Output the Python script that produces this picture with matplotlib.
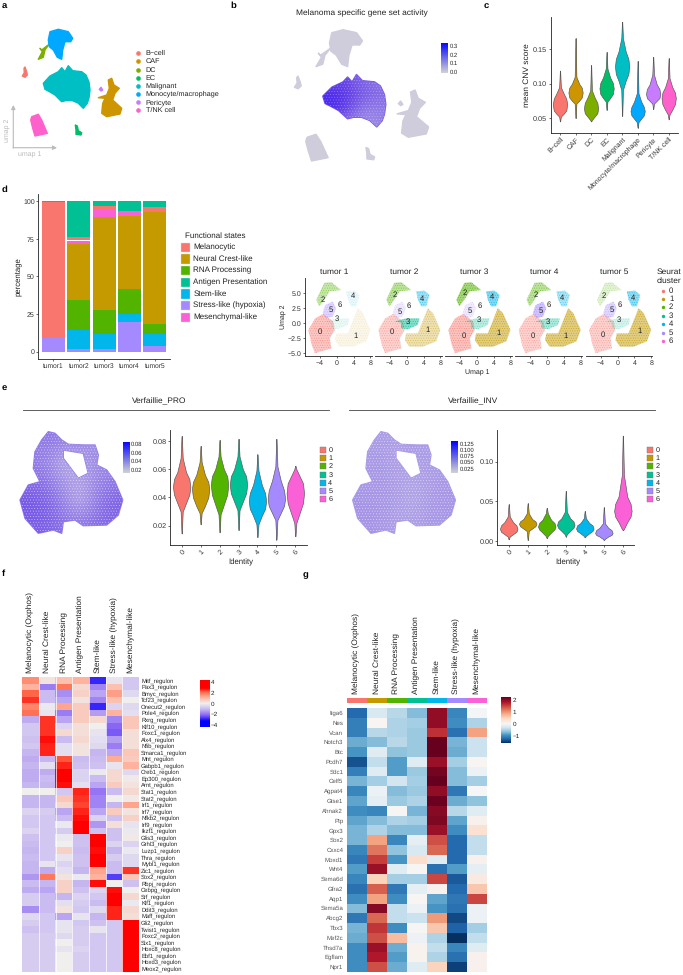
import numpy as np
import matplotlib
matplotlib.use('Agg')
from matplotlib import pyplot as plt
from matplotlib.colors import LinearSegmentedColormap, TwoSlopeNorm, Normalize
from matplotlib.path import Path
from matplotlib.patches import PathPatch, Rectangle

plt.rcParams['font.family'] = ['Liberation Sans', 'DejaVu Sans']
plt.rcParams['hatch.linewidth'] = 0.3
plt.rcParams['text.hinting'] = 'no_hinting'

W, H = 683, 975

# ggplot hue palettes used by the figure
hue8 = ['#F8766D', '#CD9600', '#7CAE00', '#00BE67', '#00BFC4', '#00A9FF', '#C77CFF', '#FF61CC']
hue7 = ['#F8766D', '#C49A00', '#53B400', '#00C094', '#00B6EB', '#A58AFF', '#FB61D7']

# Panel a/b: cell type umap outlines
cell_types = ['B\u2212cell', 'CAF', 'DC', 'EC', 'Malignant', 'Monocyte/macrophage', 'Pericyte', 'T/NK cell']
bcell_xy = [(25, 67), (26.7, 72), (27.3, 75), (25, 77.3), (22.3, 76), (24.3, 72.7), (24, 68.3)]
caf_xy = [(108.3, 80), (111.7, 78.3), (114, 85), (119.3, 88.3), (115, 93.3), (112.7, 100), (121.7, 108.3),
          (120, 114), (106.7, 116.7), (101.7, 113.3), (102.7, 103.3), (105, 98.3), (98.3, 97.7), (106.7, 95), (109.3, 88.3)]
dc_xy = [(49, 44.3), (41.7, 50), (40, 48.3), (42.3, 51.7), (38.3, 59.3), (43.3, 57.3), (45, 50)]
ec_xy = [(75.3, 125), (77.3, 126), (78.3, 130.7), (81.7, 132.7), (81, 135), (76, 134.3), (76, 130)]
malignant_xy = [(43.3, 83.3), (50, 76), (58.3, 71.7), (61.7, 67.7), (65, 71.7), (68.3, 65.7), (72.7, 70.7), (81.7, 71.7),
                (86, 75), (89, 82), (90, 90), (89, 98), (87.3, 103.3), (83.3, 108.3), (78, 103), (72, 100.5), (66, 100.5),
                (61.7, 101.7), (55, 95), (50, 92), (45, 89.3)]
mono_xy = [(50, 31.7), (58.3, 29.3), (68.3, 31.7), (72.7, 38.3), (70.7, 41.7), (65, 41.7), (62.7, 50), (61.7, 59.3),
           (57.3, 57.3), (53.3, 50), (49.3, 46.7), (48.3, 40)]
pericyte_xy = [(99.3, 89.3), (101, 87.3), (102.7, 90), (101, 91)]
tnk_xy = [(31.7, 116.7), (38.3, 114.3), (41.7, 120), (47.3, 133.3), (35, 136), (32.7, 128.3), (30.7, 120)]
cell_shapes = [bcell_xy, caf_xy, dc_xy, ec_xy, malignant_xy, mono_xy, pericyte_xy, tnk_xy]

# Panel b: gene set activity over the malignant cluster, left to right
malignant_activity = [[0.20, 0.21, 0.17, 0.15, 0.13],
                      [0.26, 0.24, 0.19, 0.17, 0.15],
                      [0.27, 0.23, 0.17, 0.13, 0.13],
                      [0.20, 0.16, 0.12, 0.10, 0.12]]

# Panel c: CNV score violins, value at each of the shared width levels
violin_levels = [0.02, 0.12, 0.50, 0.88, 1.0, 0.88, 0.50, 0.12, 0.02]
cnv_values = [[.045, .052, .056, .061, .070, .078, .086, .095, .119],
              [.050, .071, .075, .080, .087, .094, .100, .110, .166],
              [.045, .047, .052, .057, .064, .072, .080, .090, .127],
              [.062, .074, .079, .085, .093, .101, .109, .122, .146],
              [.053, .091, .104, .114, .125, .136, .147, .166, .190],
              [.036, .044, .049, .054, .060, .066, .074, .086, .133],
              [.063, .071, .075, .079, .085, .092, .099, .113, .139],
              [.048, .055, .062, .070, .079, .087, .095, .108, .137]]

# Panel d: stacked percentages per tumor
tumors = ['tumor1', 'tumor2', 'tumor3', 'tumor4', 'tumor5']
state_names = ['Melanocytic', 'Neural Crest-like', 'RNA Processing', 'Antigen Presentation',
               'Stem-like', 'Stress-like (hypoxia)', 'Mesenchymal-like']
pct_stress = [9, 2, 2, 19.5, 4]
pct_stem = [0, 12.5, 10, 5.5, 8]
pct_rna = [0, 20, 16, 17, 6.5]
pct_neural = [0, 37, 61.5, 48.5, 74.5]
pct_mes = [1, 2.5, 5.5, 2.5, 0.5]
pct_mel = [89.5, 2.5, 2, 0.5, 2.5]
pct_antigen = [0.5, 23.5, 3, 6.5, 4]

# Panel d right: seurat cluster outlines in umap units
cluster0_xy = [(-6.8, -1.1), (-5.2, .8), (-3.25, 1.55), (-.9, .3), (-.5, -1.1), (-1.7, -2.5), (-1.3, -4.2), (-4, -4.7), (-5.2, -5), (-6, -3.6)]
cluster1_xy = [(-.2, -1.7), (2.6, -1.7), (5, 2.5), (6.2, 1.7), (8, -1.1), (7, -3), (3.8, -3.9), (.6, -3.9), (-.5, -2.8)]
cluster2_xy = [(-4.9, 3.9), (-3, 6.7), (-1.3, 6.8), (1, 5.5), (-1.7, 5.3), (-3, 3.9), (-4.2, 2.8)]
cluster3_xy = [(-2.9, .3), (-.2, .8), (3, .8), (2.6, -.3), (.2, -1), (-1.4, -.8), (-1.4, .1)]
cluster4_xy = [(2.2, 5.3), (4.2, 5.4), (5.4, 4.7), (4.6, 2.8), (3.4, 2.8), (2.6, 3.9)]
cluster5_xy = [(-2.8, 3), (-1, 3.6), (-.2, 2.5), (-1, 1.1), (-2.6, .8), (-3.4, 1.7)]
cluster6_xy = [(.4, 3.0), (.7, 3.2), (.9, 2.9), (.6, 2.7)]
cluster_shapes = [cluster0_xy, cluster1_xy, cluster2_xy, cluster3_xy, cluster4_xy, cluster5_xy, cluster6_xy]
# how filled each cluster looks in each tumor
cluster_density = [[.75, .60, .80, .60, .60],
                   [.15, .55, .90, .90, .90],
                   [.60, .70, .95, .70, .30],
                   [.15, .90, .50, .60, .30],
                   [.15, .70, .90, .60, .80],
                   [.60, .30, .30, .90, .60],
                   [.50, .50, .50, .50, .50]]
cluster_label_xy = [[(-4, -1.4), (4.4, -2.1), (-3.4, 3.8), (0, .7), (3.9, 4.5), (-1.4, 2.2), (.6, 3.0)],
                    [(-3.5, -1.4), (5, -1.1), (-2.9, 4.7), (.2, .3), (3.5, 4), (-1.8, 1.9), (.4, 2.8)],
                    [(-3.1, -2.1), (5.2, -1.6), (-2.8, 5.1), (.4, .5), (3.7, 4.3), (-1.8, 2), (.6, 2.9)],
                    [(-3.5, -2.1), (4.3, -2.1), (-2.8, 4.7), (.2, .3), (3.5, 4.2), (-1.5, 2.1), (.4, 3.1)],
                    [(-3.4, -2), (5.3, -1.2), (-3.3, 4.6), (.2, .5), (3.7, 4.2), (-1.3, 2.2), (.6, 3.1)]]

# Panel e: combined umap outline, hole and score violins
melanoma_xy = [(48.3, 56.7), (55, 58.3), (61.7, 65), (68.3, 69.3), (83.3, 70), (95, 70), (98.3, 80), (96.7, 90),
               (106.7, 95), (115, 106.7), (122.7, 125), (118.3, 140), (106.7, 150), (83.3, 150.7), (75, 145),
               (63.3, 146.7), (61.7, 158.3), (53.3, 155), (38.3, 158.3), (25, 143.3), (20, 125), (28.3, 110),
               (40, 106.7), (33.3, 93.3), (35, 76.7), (41.7, 65)]
melanoma_hole_xy = [(63.3, 75), (83.3, 78.3), (88.3, 98.3), (78.3, 103.3), (68.3, 90), (63.3, 83.3)]
pro_activity = [[.034, .040, .036, .034, .032, .030],
                [.038, .034, .022, .026, .032, .034],
                [.042, .040, .030, .024, .034, .038],
                [.050, .046, .036, .022, .038, .046],
                [.046, .046, .040, .038, .042, .044]]
inv_activity = [[.024, .024, .022, .024, .024, .024],
                [.024, .026, .022, .022, .024, .024],
                [.027, .026, .024, .018, .024, .027],
                [.027, .027, .022, .022, .026, .026]]
cluster_ids = ['0', '1', '2', '3', '4', '5', '6']
pro_values = [[.0145, .030, .036, .042, .0475, .053, .058, .068, .0835],
              [.021, .029, .034, .040, .046, .051, .056, .065, .0765],
              [.0153, .028, .035, .042, .049, .055, .060, .069, .0807],
              [.017, .031, .037, .043, .049, .055, .060, .069, .0815],
              [.012, .021, .027, .032, .0375, .043, .049, .059, .0705],
              [.0102, .024, .029, .034, .039, .045, .052, .062, .0815],
              [.0125, .022, .029, .036, .043, .050, .055, .060, .0625]]
inv_values = [[.0025, .006, .009, .012, .0155, .020, .024, .031, .0465],
              [.0017, .013, .016, .019, .022, .025, .028, .035, .0477],
              [.004, .0067, .011, .015, .0185, .023, .027, .035, .042],
              [.006, .0088, .013, .017, .0205, .025, .029, .037, .0632],
              [.005, .0067, .010, .013, .016, .020, .023, .029, .038],
              [.0017, .003, .006, .008, .0105, .014, .017, .0226, .0427],
              [.014, .0155, .024, .031, .038, .047, .056, .083, .1326]]

# Panel f: regulon heatmap
heat_cols = ['Melanocytic (Oxphos)', 'Neural Crest-like', 'RNA Processing', 'Antigen Presentation',
             'Stem-like', 'Stress-like (hypoxia)', 'Mesenchymal-like']
regulons = ['Mitf', 'Pax3', 'Bmyc', 'Tcf23', 'Onecut2', 'Pole4', 'Rxrg', 'Klf10', 'Foxc1', 'Alx4', 'Nfib', 'Smarca1',
            'Mnt', 'Gabpb1', 'Creb1', 'Ep300', 'Arnt', 'Stat1', 'Stat2', 'Irf1', 'Irf7', 'Nfkb2', 'Irf9', 'Ikzf1',
            'Glis3', 'Grhl3', 'Luzp1', 'Thra', 'Mybl1', 'Zic1', 'Sox2', 'Rbpj', 'Cebpg', 'Srf', 'Klf1', 'Ddit3', 'Maff',
            'Gli2', 'Twist1', 'Foxc2', 'Six1', 'Hoxc8', 'Ebf1', 'Hoxd3', 'Meox2']
regulon_z = [[1.5, .2, .8, 1.0, -2.6, -.2, -.7],
             [1.0, -1.7, 1.8, .4, -1.6, .8, -.7],
             [2.0, -.9, -1.5, .5, -1.2, 1.3, -.4],
             [2.3, -.9, -1.2, .2, -1.6, .8, 0],
             [1.6, -.1, 1.2, .6, -2.6, -.5, -.4],
             [1.9, -.2, -1.7, .6, -1.3, 1.0, -.3],
             [-1.1, 2.3, -1.2, .6, .4, -1.6, .7],
             [-.7, 2.3, -.5, .3, 0, -2.0, .7],
             [-.7, 2.3, .4, .3, -.2, -2.1, .3],
             [-.8, 2.5, -.9, .4, -.3, -1.3, .3],
             [-.7, 2.4, -.3, .2, -.4, -1.7, .3],
             [-1.0, 2.4, -.3, .2, -1, -1.2, .7],
             [-1.1, -1.0, 2.1, -.9, -.9, 1.1, .6],
             [-1.0, -.3, 2.4, -.8, -.8, -.2, 1.0],
             [-1.1, -1.1, 2.6, -.5, -.1, .4, -.4],
             [-1.1, -.9, 2.6, -.5, -.9, .4, .1],
             [-1.0, -1.0, 2.5, -.3, -1.2, .6, .2],
             [0, 0, -.7, 2.4, -1.8, -.9, .4],
             [-1.0, -1.0, .7, 2.3, -1.6, 0, .1],
             [-1.0, -1.0, .4, 2.2, -1.6, -1.0, 1.2],
             [-.5, -.6, -1.2, 2.4, -1.2, .6, .2],
             [-.7, -.7, -.9, 2.5, -.5, -.8, .5],
             [-.7, -.7, -.1, 2.6, -1.4, .3, -.2],
             [-.5, -.7, -.6, 3, -.8, -.8, -.1],
             [-.8, -.7, -.1, -.8, 3, -.8, .1],
             [-.9, -.7, 0, -.8, 3, -.5, -.5],
             [-1., -.7, .5, -.9, 2.5, -1.0, -.1],
             [-.9, -.7, -.2, -.8, 3, -.6, -.4],
             [-1.0, -.2, -.5, -.8, 3, -.9, -.4],
             [-1.0, -1.1, -.3, -1.0, 1.2, -.9, 2.3],
             [-1.4, 1.8, .2, -.1, 1.0, -2.4, .7],
             [-.9, -1.0, .5, -1.0, 2.5, 0, -.8],
             [-1.1, -1.2, .5, -.8, -.5, 2.5, 0],
             [-.6, -.9, -1.0, -.5, -.7, 2.6, .4],
             [-.6, -.9, -.3, -.6, -.9, 2.8, -.1],
             [-1.5, -.9, .2, -.7, -.4, 2.4, .4],
             [-.4, -.7, -1.2, -.2, -1.0, 2.4, .3],
             [-.6, -.7, -.2, -.7, -.8, -.7, 3],
             [-.8, -.7, -.2, -.6, -.2, -.7, 3],
             [-.6, -.6, -.4, -.6, -.7, -.7, 3],
             [-.6, -.6, 0, -.6, -.7, -.7, 3],
             [-.6, -.6, -.2, -.5, -.7, -.7, 3],
             [-.6, -.6, 0, -.6, -.7, -.7, 3],
             [-.6, -.6, 0, -.6, -.7, -.7, 3],
             [-.6, -.6, 0, -.6, -.7, -.7, 3]]

# Panel g: gene heatmap
genes = ['Itga6', 'Nes', 'Vcan', 'Notch3', 'Btc', 'Pcdh7', 'Sdc1', 'Celf5', 'Agpat4', 'Gtse1', 'Ahnak2', 'Ptp', 'Gpx3',
         'Sox2', 'Cxxc4', 'Moxd1', 'Wnt4', 'Sema6d', 'Gfra2', 'Aqp1', 'Sema5a', 'Abcg2', 'Tbx3', 'Mef2c', 'Thsd7a', 'Egflam', 'Npr1']
gene_z = [[-1.25, -.25, -.45, -.7, 2.0, -1.05, -.02],
          [-1.1, .05, -.5, -.55, 2.0, -1.0, -.5],
          [-1.1, -.45, -.5, -.6, 1.65, -1.2, .9],
          [-.8, -.7, -.45, -.6, 2.25, -.75, -.35],
          [-.95, -.2, -.65, -.6, 2.25, -.8, -.35],
          [-1.4, -.4, -.9, -.2, 1.95, -.55, .05],
          [-1.1, -.2, -.9, -.6, 2.15, -.7, -.1],
          [-.75, -.55, -.3, -.55, 2.25, -.7, -.55],
          [-1.05, -.1, -.7, -.6, 2.0, -1.15, 0],
          [-.85, -.15, -.6, -.5, 2.2, -.8, -.65],
          [-1.0, -1.05, .03, -.75, 2.05, -.45, -.2],
          [-.85, -.7, -.5, -.55, 2.1, -.85, .1],
          [-.75, -.5, -.7, -.7, 1.95, -1.0, .35],
          [-.75, .9, -1.05, -.15, 1.45, -1.25, -.4],
          [-1.05, 1.2, -.65, -.25, 1.3, -1.25, -.4],
          [-1.15, 1.55, -.95, .4, -.2, -1.25, .1],
          [-.9, 1.95, -.2, .03, -1.2, -.9, -.15],
          [-1.05, .5, -.55, -.55, 1.5, -1.35, .2],
          [-1.2, 1.35, -1.15, -.15, .1, -1.25, .6],
          [-1.0, .9, -1.0, .03, -.85, -1.15, 1.5],
          [-.7, 2.05, -.4, -.1, -.95, -1.2, -.1],
          [-1.15, 1.3, -.4, -.35, .95, -1.45, -.1],
          [-.75, 1.6, -1.0, .02, .6, -1.3, -.55],
          [-.8, 1.45, .7, -.1, -.5, -1.6, -.4],
          [-1.0, 1.95, -.8, .08, -.4, -1.05, -.2],
          [-1.0, 1.8, -.9, .08, -.5, -1.2, .1],
          [-1.0, 1.45, -.8, -.2, .5, -1.5, .1]]

fig = plt.figure(figsize=(W / 100, H / 100), dpi=100, facecolor='white')


def px_axes(left, top, right, bottom):
    # axes placed by reference pixels
    return fig.add_axes([left / W, 1 - bottom / H, (right - left) / W, (bottom - top) / H])


def classic(ax, size=5.2):
    for s in ['top', 'right']:
        ax.spines[s].set_visible(False)
    for s in ['left', 'bottom']:
        ax.spines[s].set_linewidth(0.6)
        ax.spines[s].set_color('#222222')
    ax.tick_params(labelsize=size, length=1.5, width=0.5, pad=1, colors='#333333')


def draw_violins(ax, positions, values, colors, half=0.46):
    for x, ys, c in zip(positions, values, colors):
        w = np.array(violin_levels) * half
        ax.plot([x, x], [ys[0], ys[-1]], color='#777777', lw=0.5, zorder=1)
        ax.fill_betweenx(ys, x - w, x + w, facecolor=c, edgecolor='#555555', lw=0.45, zorder=2)


def activity_fill(ax, shape, hole, matrix, cmap, norm, speckle=0.5):
    # filled outline coloured by a small activity grid
    verts = list(shape) + [shape[0]]
    codes = [Path.MOVETO] + [Path.LINETO] * (len(shape) - 1) + [Path.CLOSEPOLY]
    if hole:
        verts += list(hole[::-1]) + [hole[-1]]
        codes += [Path.MOVETO] + [Path.LINETO] * (len(hole) - 1) + [Path.CLOSEPOLY]
    path = Path(verts, codes)
    xs = [p[0] for p in shape]
    ys = [p[1] for p in shape]
    extent = (min(xs), max(xs), max(ys), min(ys))
    base = cmap(norm(np.mean(matrix)))
    ax.add_patch(PathPatch(path, facecolor=base, edgecolor=base, lw=1.0, joinstyle='round', zorder=1))
    im = ax.imshow(matrix, extent=extent, cmap=cmap, norm=norm, interpolation='bicubic', aspect='auto', zorder=2)
    patch = PathPatch(path, transform=ax.transData, facecolor='none', edgecolor='none')
    ax.add_patch(patch)
    im.set_clip_path(patch)
    ax.add_patch(PathPatch(path, facecolor='none', edgecolor='white', lw=0, hatch='......', alpha=speckle, zorder=3))


def color_bar(cax, cmap, norm, ticks, labels, size=4.2):
    grad = np.linspace(norm.vmax, norm.vmin, 200).reshape(-1, 1)
    cax.imshow(grad, extent=(0, 1, norm.vmin, norm.vmax), cmap=cmap, norm=norm, aspect='auto')
    cax.set_xticks([])
    cax.yaxis.tick_right()
    cax.set_yticks(ticks)
    cax.set_yticklabels(labels)
    cax.tick_params(labelsize=size, length=0, pad=1.5, colors='#222222')
    for s in cax.spines.values():
        s.set_visible(False)


# overlay in pixel coordinates for loose labels and legends
pix = fig.add_axes([0, 0, 1, 1], zorder=10)
pix.set_xlim(0, W)
pix.set_ylim(H, 0)
pix.axis('off')

for letter, lx, ly in [('a', 2, 6), ('b', 230, 6), ('c', 484, 6), ('d', 2, 190), ('e', 2, 388), ('f', 2, 574), ('g', 303, 575)]:
    pix.text(lx, ly, letter, fontsize=6.8, fontweight='bold', va='center', ha='left', color='black')

# --- a: cell type umap
ax = px_axes(0, 20, 220, 170)
ax.set_xlim(0, 220)
ax.set_ylim(170, 20)
ax.axis('off')
for shape, c in zip(cell_shapes, hue8):
    ax.fill(*zip(*shape), facecolor=c, edgecolor=c, lw=1.0, joinstyle='round')

legend_y = [53.3, 61.3, 69.7, 77.7, 86, 94, 102.3, 110.3]
for name, c, y in zip(cell_types, hue8, legend_y):
    pix.scatter([137.7], [y], s=11, color=c, lw=0)
    pix.text(145.7, y, name, fontsize=5.2, va='center', color='#222222')

pix.annotate('', xy=(13.3, 105), xytext=(13.3, 148), arrowprops=dict(arrowstyle='-|>', color='#bbbbbb', lw=0.8, mutation_scale=6, shrinkA=0, shrinkB=0))
pix.annotate('', xy=(57, 147.7), xytext=(13, 147.7), arrowprops=dict(arrowstyle='-|>', color='#bbbbbb', lw=0.8, mutation_scale=6, shrinkA=0, shrinkB=0))
pix.text(30, 154.7, 'umap 1', fontsize=5, color='#bbbbbb', ha='center', va='center')
pix.text(8, 130, 'umap 2', fontsize=5, color='#bbbbbb', ha='center', va='center', rotation=90)

# --- b: gene set activity, same outlines as a
seurat = LinearSegmentedColormap.from_list('seurat', ['#d3d3d3', '#0000ff'])
umap_cmap = LinearSegmentedColormap.from_list('umapfill', ['#d9d6e6', '#a08ee6', '#6a48e6', '#3a18f0'])
ax = px_axes(264.3, 18.3, 561.3, 202.8)
ax.set_xlim(0, 220)
ax.set_ylim(170, 20)
ax.axis('off')
for i, shape in enumerate(cell_shapes):
    if cell_types[i] == 'Malignant':
        activity_fill(ax, shape, None, malignant_activity, umap_cmap, Normalize(0, 0.3), speckle=0.35)
    else:
        ax.fill(*zip(*shape), facecolor='#cfccdc', edgecolor='#cfccdc', lw=1.0, joinstyle='round')
ax.set_xlim(0, 220)
ax.set_ylim(170, 20)

pix.text(362, 13, 'Melanoma specific gene set activity', fontsize=6, ha='center', va='center', color='#222222')
cax = px_axes(441, 42.7, 447.3, 73)
color_bar(cax, seurat, Normalize(-0.01, 0.33), [0, .1, .2, .3], ['0.0', '0.1', '0.2', '0.3'])

# --- c: CNV violins
ax = px_axes(550.7, 17, 678, 132.7)
classic(ax)
draw_violins(ax, range(1, 9), cnv_values, hue8)
ax.set_xlim(0.4, 8.6)
ax.set_ylim(0.0286, 0.197)
ax.set_yticks([.05, .10, .15])
ax.set_yticklabels(['0.05', '0.10', '0.15'])
ax.set_xticks(range(1, 9))
ax.set_xticklabels(cell_types, rotation=45, ha='right', rotation_mode='anchor', fontsize=5)
ax.set_ylabel('mean CNV score', fontsize=6, labelpad=1.5, color='#222222')

# --- d: stacked bars, drawn bottom to top
ax = px_axes(38.3, 194, 170, 359)
classic(ax, 5)
stack = [(pct_stress, hue7[5]), (pct_stem, hue7[4]), (pct_rna, hue7[2]), (pct_neural, hue7[1]),
         (pct_mes, hue7[6]), (pct_mel, hue7[0]), (pct_antigen, hue7[3])]
base = np.zeros(5)
for vals, c in stack:
    ax.bar(range(1, 6), vals, bottom=base, width=0.9, color=c, lw=0)
    base += np.array(vals)
ax.set_xlim(0.4, 5.6)
ax.set_ylim(-5, 105)
ax.set_yticks([0, 25, 50, 75, 100])
ax.set_xticks(range(1, 6))
ax.set_xticklabels(tumors, fontsize=4.8)
ax.set_ylabel('percentage', fontsize=5.6, labelpad=1.5, color='#222222')

pix.text(185, 236, 'Functional states', fontsize=5.8, va='center', color='#222222')
state_y = [247.7, 259, 270.7, 282.3, 294, 305.7, 317.3]
for name, c, y in zip(state_names, hue7, state_y):
    pix.add_patch(Rectangle((180.7, y - 4.7), 9.3, 9.4, facecolor=c, edgecolor='#dddddd', lw=0.3))
    pix.text(193.3, y, name, fontsize=5.8, va='center', color='#222222')

# --- d right: tumor umaps
panel_left = [305, 375, 445, 515.3, 585.7]
for t in range(5):
    ax = px_axes(panel_left[t], 278, panel_left[t] + 66.7, 356)
    classic(ax, 5)
    for k, shape in enumerate(cluster_shapes):
        dens = cluster_density[k][t]
        ax.fill(*zip(*shape), facecolor=hue7[k], alpha=dens * 0.55, lw=0)
        # dotted overlay for the look of single cells
        ax.fill(*zip(*shape), facecolor='none', edgecolor=hue7[k], hatch='.......', alpha=dens, lw=0)
    for k, (lx, ly) in enumerate(cluster_label_xy[t]):
        ax.text(lx, ly, cluster_ids[k], fontsize=5.5, ha='center', va='center', color='#222222')
    ax.set_xlim(-7.6, 8.3)
    ax.set_ylim(-5.44, 7.5)
    ax.set_xticks([-4, 0, 4, 8])
    ax.set_xticklabels(['\u22124', '0', '4', '8'])
    if t == 0:
        ax.set_yticks([-5, -2.5, 0, 2.5, 5])
        ax.set_yticklabels(['\u22125.0', '\u22122.5', '0.0', '2.5', '5.0'])
    else:
        ax.set_yticks([])
        ax.spines['left'].set_visible(False)
    pix.text(panel_left[t] + 29, 272.3, 'tumor %d' % (t + 1), fontsize=6, ha='center', va='center', color='#222222')

pix.text(477, 373, 'Umap 1', fontsize=5, ha='center', va='center', color='#222222')
pix.text(284, 317, 'Umap 2', fontsize=5, ha='center', va='center', rotation=90, color='#222222')
pix.text(657, 272, 'Seurat', fontsize=6, va='center', color='#222222')
pix.text(657, 281, 'cluster', fontsize=6, va='center', color='#222222')
dot_y = [290.7, 299, 307.3, 315.7, 324, 332.7, 340.7]
for cid, c, y in zip(cluster_ids, hue7, dot_y):
    pix.scatter([662.7], [y], s=6, color=c, lw=0)
    pix.text(669, y, cid, fontsize=5.6, va='center', color='#222222')

# --- e: signature umaps and violins
for title, tx, x0, x1 in [('Verfaillie_PRO', 159, 22.7, 329), ('Verfaillie_INV', 472.7, 349, 655)]:
    pix.text(tx, 401.7, title, fontsize=6, ha='center', va='center', color='#222222')
    pix.plot([x0, x1], [410, 410], color='#444444', lw=0.6)

box_y = [450, 458, 466.3, 474.7, 483.3, 491.3, 499.3]

ax = px_axes(0, 420, 140, 550)
ax.set_xlim(0, 140)
ax.set_ylim(175, 45)
ax.axis('off')
activity_fill(ax, melanoma_xy, melanoma_hole_xy, pro_activity, umap_cmap, Normalize(0.01, 0.075), speckle=0.6)
ax.set_xlim(0, 140)
ax.set_ylim(175, 45)

cax = px_axes(122.7, 441.7, 129, 473)
color_bar(cax, seurat, Normalize(0.012, 0.086), [.02, .04, .06, .08], ['0.02', '0.04', '0.06', '0.08'])

ax = px_axes(170.3, 430, 306.7, 545.3)
classic(ax, 5.2)
draw_violins(ax, range(7), pro_values, hue7)
ax.set_xlim(-0.6, 6.6)
ax.set_ylim(0.0061, 0.0878)
ax.set_yticks([.02, .04, .06, .08])
ax.set_yticklabels(['0.02', '0.04', '0.06', '0.08'])
ax.set_xticks(range(7))
ax.set_xticklabels(cluster_ids, rotation=45, ha='right', rotation_mode='anchor')
pix.text(240.7, 562.7, 'Identity', fontsize=5.6, ha='center', va='center', color='#222222')
for cid, c, y in zip(cluster_ids, hue7, box_y):
    pix.add_patch(Rectangle((320, y - 2.9), 5.7, 5.8, facecolor=c, edgecolor='#777777', lw=0.3))
    pix.text(328.3, y, cid, fontsize=5.2, va='center', color='#222222')

ax = px_axes(340 - 7.3, 420, 340 - 7.3 + 140, 550)
ax.set_xlim(0, 140)
ax.set_ylim(175, 45)
ax.axis('off')
activity_fill(ax, melanoma_xy, melanoma_hole_xy, inv_activity, umap_cmap, Normalize(0.0, 0.09), speckle=0.6)
ax.set_xlim(0, 140)
ax.set_ylim(175, 45)

cax = px_axes(451, 441, 457.7, 472.7)
color_bar(cax, seurat, Normalize(0.008, 0.135), [.025, .05, .075, .1, .125], ['0.025', '0.050', '0.075', '0.100', '0.125'])

ax = px_axes(497.3, 430, 634.3, 545.3)
classic(ax, 5.2)
draw_violins(ax, range(7), inv_values, hue7)
ax.set_xlim(-0.6, 6.6)
ax.set_ylim(-0.005, 0.1397)
ax.set_yticks([0, .05, .10])
ax.set_yticklabels(['0.00', '0.05', '0.10'])
ax.set_xticks(range(7))
ax.set_xticklabels(cluster_ids, rotation=45, ha='right', rotation_mode='anchor')
pix.text(567.7, 562.7, 'Identity', fontsize=5.6, ha='center', va='center', color='#222222')
for cid, c, y in zip(cluster_ids, hue7, box_y):
    pix.add_patch(Rectangle((647, y - 2.9), 5.7, 5.8, facecolor=c, edgecolor='#777777', lw=0.3))
    pix.text(655.7, y, cid, fontsize=5.2, va='center', color='#222222')

# --- f: regulon heatmap
reg_cmap = LinearSegmentedColormap.from_list('reg', [(0, '#0000ff'), (1 / 8, '#0000ff'), (2 / 8, '#8a66f5'), (3 / 8, '#c6b6f0'),
                                                      (4 / 8, '#f0f0f0'), (5 / 8, '#ffb5a0'), (6 / 8, '#ff6a4a'),
                                                      (6.6 / 8, '#ff0000'), (1, '#ff0000')])
reg_norm = Normalize(-4, 4)
ax = px_axes(22.3, 677, 139, 971.7)
ax.imshow(np.array(regulon_z), cmap=reg_cmap, norm=reg_norm, aspect='auto', interpolation='nearest',
          extent=(0, 7, len(regulons), 0))
for i in range(1, 7):
    ax.axvline(i, color='white', lw=0.5)
ax.set_ylim(len(regulons), 0)
ax.set_xlim(0, 7)
ax.set_xticks(np.arange(7) + 0.5)
ax.set_xticklabels(heat_cols, rotation=90, fontsize=6, color='#222222')
ax.xaxis.tick_top()
ax.set_yticks(np.arange(len(regulons)) + 0.5)
ax.set_yticklabels([r + '_regulon' for r in regulons], fontsize=4.2, color='#222222')
ax.yaxis.tick_right()
ax.tick_params(length=0, pad=1.5)
ax.tick_params(axis='x', pad=3)
for s in ax.spines.values():
    s.set_visible(False)

cax = px_axes(200, 680, 209, 726.7)
color_bar(cax, reg_cmap, Normalize(-4.3, 4.3), [-4, -2, 0, 2, 4], ['\u22124', '\u22122', '0', '2', '4'], size=4.6)

# --- g: gene heatmap
gene_norm = TwoSlopeNorm(vmin=-1.6, vcenter=0, vmax=2.25)
ax = px_axes(346.7, 708, 486.7, 971.7)
ax.imshow(np.array(gene_z), cmap='RdBu_r', norm=gene_norm, aspect='auto', interpolation='nearest',
          extent=(0, 7, len(genes), 0))
ax.set_ylim(len(genes), 0)
ax.set_xlim(0, 7)
ax.set_xticks([])
ax.set_yticks(np.arange(len(genes)) + 0.5)
ax.set_yticklabels(genes, fontsize=4.4, color='#555555')
ax.tick_params(length=0, pad=2.5)
for s in ax.spines.values():
    s.set_visible(False)

ax = px_axes(346.7, 698, 486.7, 703.3)
for i, c in enumerate(hue7):
    ax.bar(i + 0.5, 1, width=1, color=c, lw=0)
ax.set_xlim(0, 7)
ax.set_ylim(0, 1)
ax.set_yticks([])
ax.set_xticks(np.arange(7) + 0.5)
ax.set_xticklabels(heat_cols, rotation=90, fontsize=6, color='#222222')
ax.xaxis.tick_top()
ax.tick_params(length=0, pad=3)
for s in ax.spines.values():
    s.set_visible(False)

cax = px_axes(501.3, 697.3, 510.7, 742.7)
color_bar(cax, 'RdBu_r', gene_norm, [-1, 0, 1, 2], ['\u22121', '0', '1', '2'], size=4.6)

fig.savefig('out.png', dpi=100)
